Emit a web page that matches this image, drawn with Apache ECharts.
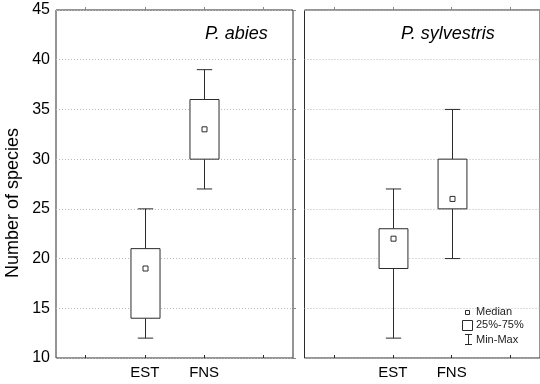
<!DOCTYPE html>
<html>
<head>
<meta charset="utf-8">
<script src="https://cdn.jsdelivr.net/npm/echarts@6/dist/echarts.min.js"></script>
<style>html,body{margin:0;padding:0;background:#fff}#c{width:540px;height:384px}</style>
</head>
<body>
<div id="c"></div>
<script>
// Categories (blank slots at both ends)
const categories = ['', 'EST', 'FNS', ''];
// [min, q1, median, q3, max]
const abiesEST = [12, 14, 19, 21, 25];
const abiesFNS = [27, 30, 33, 36, 39];
const sylvEST = [12, 19, 22, 23, 27];
const sylvFNS = [20, 25, 26, 30, 35];
const yTicks = [10, 15, 20, 25, 30, 35, 40, 45];
const panelTitles = ['P. abies', 'P. sylvestris'];
const yAxisTitle = 'Number of species';
const legendLabels = ['Median', '25%-75%', 'Min-Max'];

const FONT = '"Liberation Sans", Arial, sans-serif';
const INK = '#2b2b2b';

function renderBox(params, api) {
  const xi = api.value(0);
  const c = v => api.coord([xi, v]);
  const pMin = c(api.value(1)), pQ1 = c(api.value(2)), pMed = c(api.value(3)),
        pQ3 = c(api.value(4)), pMax = c(api.value(5));
  const band = api.size([1, 0])[0];
  const bw = band * 0.49, cw = band * 0.26, ms = 5;
  const x = Math.round(pMed[0]) + 0.5;
  const st = { stroke: INK, lineWidth: 1, fill: null };
  return {
    type: 'group',
    children: [
      { type: 'line', shape: { x1: x, y1: pMax[1], x2: x, y2: pQ3[1] }, style: st },
      { type: 'line', shape: { x1: x, y1: pQ1[1], x2: x, y2: pMin[1] }, style: st },
      { type: 'line', shape: { x1: x - cw / 2, y1: pMax[1], x2: x + cw / 2, y2: pMax[1] }, style: st },
      { type: 'line', shape: { x1: x - cw / 2, y1: pMin[1], x2: x + cw / 2, y2: pMin[1] }, style: st },
      { type: 'rect', shape: { x: x - bw / 2, y: pQ3[1], width: bw, height: pQ1[1] - pQ3[1] },
        style: { stroke: INK, lineWidth: 1, fill: '#fff' } },
      { type: 'rect', shape: { x: x - ms / 2, y: pMed[1] - ms / 2, width: ms, height: ms },
        style: { stroke: INK, lineWidth: 1, fill: '#fff' } }
    ]
  };
}

const grids = [
  { left: 56, top: 10, width: 237, bottom: 26 },
  { left: 304.5, top: 10, width: 237, bottom: 26 }
];

const xAxes = [], yAxes = [], series = [];
grids.forEach((g, i) => {
  g.show = true; g.borderColor = INK; g.borderWidth = 1; g.backgroundColor = '#fff';
  xAxes.push({
    type: 'category', gridIndex: i, data: categories, position: 'bottom',
    axisLine: { show: false },
    axisTick: { show: true, alignWithLabel: true, inside: true, length: 3, lineStyle: { color: INK } },
    axisLabel: { color: '#000', fontFamily: FONT, fontSize: 15, margin: 7 }
  });
  xAxes.push({
    type: 'category', gridIndex: i, data: categories, position: 'top',
    axisLine: { show: false },
    axisTick: { show: true, alignWithLabel: true, length: 3, lineStyle: { color: '#888' } },
    axisLabel: { show: false }
  });
  yAxes.push({
    type: 'value', gridIndex: i, min: yTicks[0], max: yTicks[yTicks.length - 1], interval: 5,
    axisLine: { show: false }, axisTick: { show: false },
    axisLabel: { show: i === 0, color: '#000', fontFamily: FONT, fontSize: 16, margin: 6 },
    splitLine: { show: true, lineStyle: { color: '#b8b8b8', type: [1, 2], width: 1 } }
  });
  yAxes.push({
    type: 'value', gridIndex: i, position: 'right', min: yTicks[0], max: yTicks[yTicks.length - 1], interval: 5,
    axisLine: { show: false },
    axisTick: { show: true, length: 3, lineStyle: { color: '#888' } },
    axisLabel: { show: false }, splitLine: { show: false }
  });
});

const panels = [[abiesEST, abiesFNS], [sylvEST, sylvFNS]];
panels.forEach((p, i) => {
  series.push({
    type: 'custom', xAxisIndex: i * 2, yAxisIndex: i * 2,
    renderItem: renderBox,
    data: p.map((v, k) => [categories.indexOf(k === 0 ? 'EST' : 'FNS')].concat(v)),
    encode: { x: 0, y: [1, 2, 3, 4, 5] },
    silent: true
  });
});

const legendFont = '11px ' + FONT;
const option = {
  animation: false,
  backgroundColor: '#fff',
  grid: grids,
  xAxis: xAxes,
  yAxis: yAxes,
  series: series,
  graphic: [
    { type: 'text', x: 13, y: 203, rotation: Math.PI / 2,
      style: { text: yAxisTitle, font: '18px ' + FONT, fill: '#000', align: 'center', verticalAlign: 'middle' } },
    { type: 'text', left: 205, top: 25, style: { text: panelTitles[0], font: 'italic 18px ' + FONT, fill: '#000' } },
    { type: 'text', left: 401, top: 25, style: { text: panelTitles[1], font: 'italic 18px ' + FONT, fill: '#000' } },
    { type: 'rect', shape: { x: 465.5, y: 310.5, width: 4, height: 4 }, style: { fill: '#fff', stroke: INK, lineWidth: 1 } },
    { type: 'rect', shape: { x: 462.5, y: 320.5, width: 10, height: 10 }, style: { fill: '#fff', stroke: INK, lineWidth: 1 } },
    { type: 'line', shape: { x1: 468.5, y1: 334, x2: 468.5, y2: 345 }, style: { stroke: INK, lineWidth: 1 } },
    { type: 'line', shape: { x1: 465, y1: 334.5, x2: 472, y2: 334.5 }, style: { stroke: INK, lineWidth: 1 } },
    { type: 'line', shape: { x1: 465, y1: 344.5, x2: 472, y2: 344.5 }, style: { stroke: INK, lineWidth: 1 } },
    { type: 'text', left: 476, top: 306, style: { text: legendLabels[0], font: legendFont, fill: '#222' } },
    { type: 'text', left: 476, top: 319, style: { text: legendLabels[1], font: legendFont, fill: '#222' } },
    { type: 'text', left: 476, top: 334, style: { text: legendLabels[2], font: legendFont, fill: '#222' } }
  ]
};
const chart = echarts.init(document.getElementById('c'), null, { renderer: 'canvas' });
chart.setOption(option);
</script>
</body>
</html>
